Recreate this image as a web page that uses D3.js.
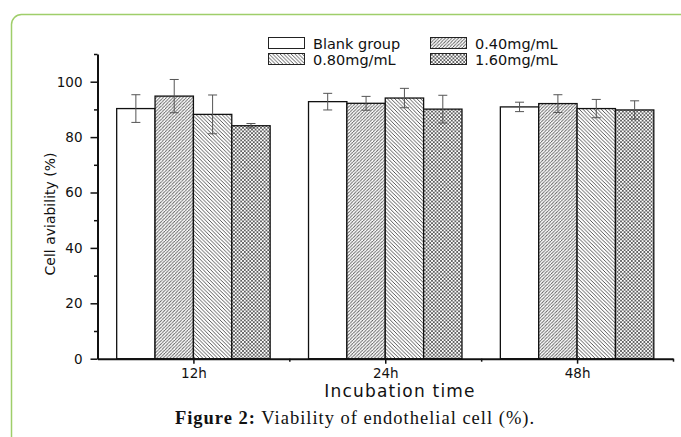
<!DOCTYPE html>
<html>
<head>
<meta charset="utf-8">
<script src="https://cdn.jsdelivr.net/npm/d3@7"></script>
<style>
  html, body { margin: 0; padding: 0; background: #fff; }
  svg { display: block; }
</style>
</head>
<body>
<svg id="chart" width="681" height="437"></svg>
<script>
// data
const times = ['12h', '24h', '48h'];
const groups = ['Blank group', '0.40mg/mL', '0.80mg/mL', '1.60mg/mL'];
const blankMean = [90.3, 92.8, 90.9];
const blankErr = [5.0, 3.0, 1.7];
const low040Mean = [94.8, 92.2, 92.1];
const low040Err = [6.0, 2.5, 3.2];
const mid080Mean = [88.2, 94.1, 90.3];
const mid080Err = [7.0, 3.5, 3.3];
const high160Mean = [84.1, 90.1, 89.8];
const high160Err = [0.8, 5.0, 3.3];
const yMajorTicks = [0, 20, 40, 60, 80, 100];
const yMinorTicks = [10, 30, 50, 70, 90, 110];

const means = [blankMean, low040Mean, mid080Mean, high160Mean];
const errs = [blankErr, low040Err, mid080Err, high160Err];
const fills = ['#fff', 'url(#p040)', 'url(#p080)', 'url(#p160)'];

const svg = d3.select('#chart');

// light green frame around the figure
svg.append('rect')
  .attr('x', 11.5).attr('y', 14.5)
  .attr('width', 720).attr('height', 460)
  .attr('rx', 10).attr('ry', 10)
  .attr('fill', 'none')
  .attr('stroke', '#9fce6a')
  .attr('stroke-width', 1.5);

// hatch patterns
const defs = svg.append('defs');
const hatch = (id, dirs, step, color, sw) => {
  const p = defs.append('pattern')
    .attr('id', id)
    .attr('patternUnits', 'userSpaceOnUse')
    .attr('width', step).attr('height', step);
  p.append('rect').attr('width', step).attr('height', step).attr('fill', '#fff');
  dirs.forEach((d) => {
    const lines = d === '/'
      ? [[0, step, step, 0], [-step, step, 0, 0], [step, 2 * step, 2 * step, step]]
      : [[0, 0, step, step], [-step, 0, 0, step], [step, 0, 2 * step, step]];
    lines.forEach((l) => {
      p.append('line')
        .attr('x1', l[0]).attr('y1', l[1]).attr('x2', l[2]).attr('y2', l[3])
        .attr('stroke', color).attr('stroke-width', sw);
    });
  });
};
hatch('p040', ['/'], 3.3, '#555', 0.9);
hatch('p080', ['\\'], 3.7, '#444', 0.9);
hatch('p160', ['/', '\\'], 3.6, '#555', 0.85);

const x = d3.scaleLinear().domain([0.5, 3.5]).range([97.5, 673]);
const y = d3.scaleLinear().domain([0, 110]).range([358.7, 54]);
const unit = x(2) - x(1);
const barW = unit * 0.2;

// bars
groups.forEach((gName, j) => {
  svg.append('g').selectAll('rect')
    .data(times)
    .join('rect')
    .attr('x', (t, i) => x(i + 1) - 2 * barW + j * barW)
    .attr('y', (t, i) => y(means[j][i]))
    .attr('width', barW)
    .attr('height', (t, i) => y(0) - y(means[j][i]))
    .attr('fill', fills[j])
    .attr('stroke', '#111')
    .attr('stroke-width', 1.3);
});

// error bars
groups.forEach((gName, j) => {
  const eg = svg.append('g').attr('stroke', '#555').attr('stroke-width', 1);
  times.forEach((t, i) => {
    const cx = x(i + 1) - 1.5 * barW + j * barW;
    const top = y(means[j][i] + errs[j][i]);
    const bot = y(means[j][i] - errs[j][i]);
    eg.append('line').attr('x1', cx).attr('x2', cx).attr('y1', top).attr('y2', bot);
    eg.append('line').attr('x1', cx - 4.5).attr('x2', cx + 4.5).attr('y1', top).attr('y2', top);
    eg.append('line').attr('x1', cx - 4.5).attr('x2', cx + 4.5).attr('y1', bot).attr('y2', bot);
  });
});

// y axis
svg.append('g')
  .attr('transform', `translate(${x(0.5)},0)`)
  .call(d3.axisLeft(y).tickValues(yMajorTicks).tickSize(7).tickSizeOuter(0).tickPadding(8));
svg.append('g')
  .attr('transform', `translate(${x(0.5)},0)`)
  .call(d3.axisLeft(y).tickValues(yMinorTicks).tickSize(3.5).tickSizeOuter(0).tickFormat(''))
  .call((g) => g.select('.domain').remove());

// x axis
svg.append('g')
  .attr('transform', `translate(0,${y(0)})`)
  .call(d3.axisBottom(x).tickValues([1, 2, 3]).tickSize(5).tickSizeOuter(0).tickPadding(5)
    .tickFormat((d) => times[d - 1]));
svg.append('g')
  .attr('transform', `translate(0,${y(0)})`)
  .call(d3.axisBottom(x).tickValues([1.5, 2.5, 3.5]).tickSize(3).tickSizeOuter(0).tickFormat(''))
  .call((g) => g.select('.domain').remove());

svg.selectAll('.domain').attr('stroke', '#111').attr('stroke-width', 2);
svg.selectAll('.tick line').attr('stroke', '#111').attr('stroke-width', 1.5);
svg.selectAll('.tick text')
  .attr('font-family', '"DejaVu Sans", sans-serif')
  .attr('font-size', 13.5)
  .attr('fill', '#111');

// axis titles
svg.append('text')
  .attr('x', 400).attr('y', 397)
  .attr('text-anchor', 'middle')
  .attr('font-family', '"DejaVu Sans", sans-serif')
  .attr('font-size', 17)
  .attr('letter-spacing', 1.2)
  .attr('fill', '#111')
  .text('Incubation time');

svg.append('text')
  .attr('transform', 'translate(55,214) rotate(-90)')
  .attr('text-anchor', 'middle')
  .attr('font-family', '"DejaVu Sans", sans-serif')
  .attr('font-size', 14)
  .attr('fill', '#111')
  .text('Cell aviability (%)');

// legend
const legendPos = [[268, 37], [430, 37], [268, 53], [430, 53]];
groups.forEach((gName, j) => {
  const lg = svg.append('g').attr('transform', `translate(${legendPos[j][0]},${legendPos[j][1]})`);
  lg.append('rect')
    .attr('x', 0.5).attr('y', 0.5)
    .attr('width', 36).attr('height', 11)
    .attr('fill', fills[j])
    .attr('stroke', '#222').attr('stroke-width', 1);
  lg.append('text')
    .attr('x', 45).attr('y', 11.5)
    .attr('font-family', '"DejaVu Sans", sans-serif')
    .attr('font-size', 14.5)
    .attr('fill', '#111')
    .text(gName);
});

// caption
const cap = svg.append('text')
  .attr('x', 355).attr('y', 424)
  .attr('text-anchor', 'middle')
  .attr('font-family', '"Liberation Serif", "Times New Roman", serif')
  .attr('font-size', 18.5)
  .attr('letter-spacing', 1)
  .attr('fill', '#111');
cap.append('tspan').attr('font-weight', 'bold').text('Figure 2:');
cap.append('tspan').text(' Viability of endothelial cell (%).');
</script>
</body>
</html>
